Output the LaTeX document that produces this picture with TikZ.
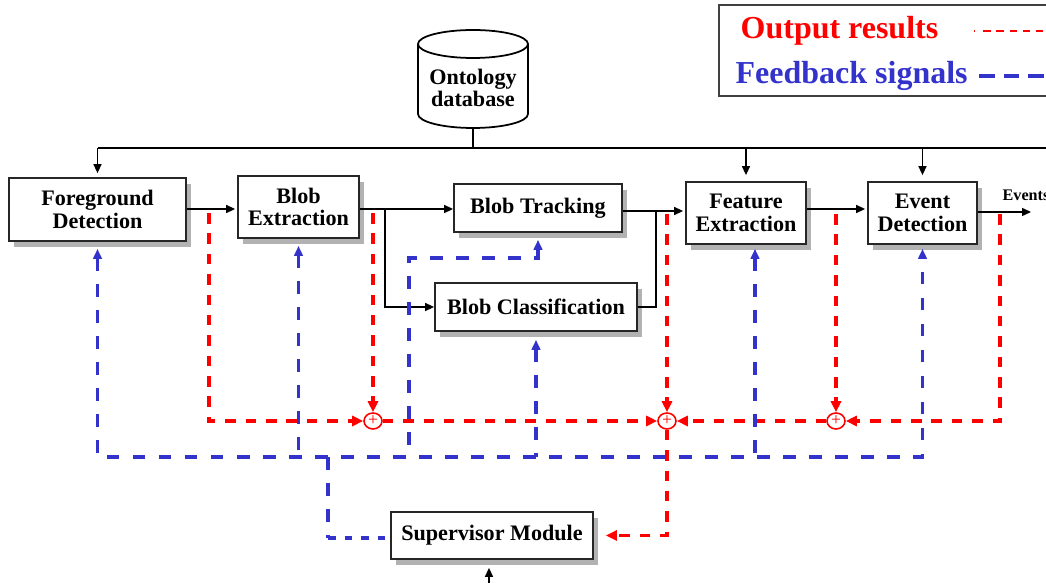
\documentclass[tikz,border=0pt]{standalone}
\usepackage{fontspec}
\setmainfont{Liberation Serif}
\usetikzlibrary{arrows.meta,shapes.geometric,shadows}

\definecolor{resred}{RGB}{255,0,0}
\definecolor{fbblue}{RGB}{51,51,204}
\newcommand{\boxfont}{\fontsize{6.3}{6.5}\selectfont\bfseries}
\newcommand{\legfont}{\fontsize{9.1}{11}\selectfont\bfseries}

\tikzset{
	block/.style={draw=black!85, line width=0.5pt, fill=white, inner sep=0pt,
		align=center, font=\boxfont,
		drop shadow={shadow xshift=0.5mm, shadow yshift=-0.6mm, fill=black!30, opacity=1}},
	sumnode/.style={ellipse, draw=resred, line width=0.45pt, fill=white, inner sep=0pt,
		minimum width=1.8mm, minimum height=1.6mm,
		label={[text=resred, font=\fontsize{5}{5}\selectfont, inner sep=0pt]center:+}},
	flow/.style={line width=0.4pt, -{Triangle[length=0.9mm,width=0.8mm]}},
	resultline/.style={resred, line width=1pt, dash pattern=on 3pt off 2.8pt},
	redtip/.style={-{Triangle[length=1.1mm,width=1mm]}},
	feedbackline/.style={fbblue, line width=1pt, dash pattern=on 3.6pt off 3.8pt},
	fbstart/.style={{Triangle[length=1mm,width=0.85mm]}-},
	fbboth/.style={{Triangle[length=1mm,width=0.85mm]}-{Triangle[length=1mm,width=0.85mm]}}
}

\begin{document}
\begin{tikzpicture}[x=0.1mm, y=-0.1mm]
	\useasboundingbox (0,0) rectangle (1046,583);

	% Legende
	\draw[draw=black!75, line width=0.5pt] (719,5) rectangle (1060,96);
	\node[anchor=west, text=resred, font=\legfont, inner sep=0pt] (legres) at (740,31) {Output results};
	\node[anchor=west, text=fbblue, font=\legfont, inner sep=0pt] (legfb) at (735,76) {Feedback signals};
	\coordinate (legresA) at (974,31);
	\coordinate (legresB) at (1046,31);
	\coordinate (legfbA) at (979,76);
	\coordinate (legfbB) at (1046,76);
	\draw[resred, line width=0.8pt, dash pattern=on 0.4pt off 2.3pt on 2pt off 1.7pt on 2pt off 1.7pt
		on 2pt off 1.7pt on 2pt off 1.7pt on 2pt off 1.7pt on 2pt off 1.7pt on 2pt off 1.7pt] (legresA) -- (legresB);
	\draw[fbblue, line width=1pt, dash pattern=on 4.5pt off 2.5pt] (legfbA) -- (legfbB);

	% Datenbank
	\draw[line width=0.5pt, fill=white] (418,44) -- (418,114)
		arc[start angle=180, end angle=360, x radius=5.5mm, y radius=1.4mm] -- (528,44);
	\draw[line width=0.5pt] (473,44) ellipse [x radius=5.5mm, y radius=1.4mm];
	\node[font=\boxfont, align=center, inner sep=0pt] (ontology) at (473,88) {Ontology\\database};
	\coordinate (ontobot) at (473,128);

	% Kaesten
	\node[block, minimum width=17.7mm, minimum height=6.3mm] (fgdet) at (97.5,209.5) {Foreground\\Detection};
	\node[block, minimum width=12.1mm, minimum height=6.2mm] (blobext) at (298.5,207) {Blob\\Extraction};
	\node[block, minimum width=16.8mm, minimum height=4.8mm] (blobtrack) at (538,208) {Blob Tracking};
	\node[block, minimum width=20.2mm, minimum height=4.8mm] (blobclass) at (536,307) {Blob Classification};
	\node[block, minimum width=12.0mm, minimum height=6.2mm] (featext) at (746,213) {Feature\\Extraction};
	\node[block, minimum width=10.9mm, minimum height=6.2mm] (eventdet) at (922.5,213) {Event\\Detection};
	\node[block, minimum width=20.2mm, minimum height=4.7mm] (supervisor) at (492,535.5) {Supervisor Module};

	% Summenpunkte
	\node[sumnode] (sumA) at (373,421) {};
	\node[sumnode] (sumB) at (667,421) {};
	\node[sumnode] (sumC) at (836,421) {};

	% Datenfluss
	\coordinate (busL) at (97.5,148);
	\coordinate (busR) at (1046,148);
	\draw[line width=0.4pt] (ontobot) -- (ontobot |- busL);
	\draw[line width=0.4pt] (busL) -- (busR);
	\draw[flow, shorten >=0.4mm] (busL) -- (fgdet.north);
	\draw[flow, shorten >=0.6mm] (featext.north |- busL) -- (featext.north);
	\draw[flow, shorten >=0.6mm] (eventdet.north |- busL) -- (eventdet.north);

	\coordinate (lineA) at (0,209);
	\coordinate (lineB) at (0,211);
	\draw[flow, shorten >=0.2mm] (fgdet.east |- lineA) -- (blobext.west |- lineA);
	\draw[flow] (blobext.east |- lineA) -- (blobtrack.west |- lineA);
	\coordinate (splitB) at (385,209);
	\draw[flow] (splitB) |- (blobclass.west);
	\coordinate (joinT) at (656,211);
	\draw[flow, shorten >=0.2mm] (blobtrack.east |- lineB) -- (featext.west |- lineB);
	\draw[line width=0.4pt] (blobclass.east) -| (joinT);
	\draw[flow, shorten >=0.2mm] (featext.east |- lineA) -- (eventdet.west |- lineA);
	\coordinate (evout) at (1031,212);
	\draw[flow] (eventdet.east |- evout) -- (evout);
	\node[anchor=west, font=\fontsize{4.6}{5}\selectfont\bfseries, inner sep=0pt] (evlabel) at (1002,195) {Events};
	\coordinate (supin) at (489,583);
	\draw[flow, shorten >=0.8mm] (supin) -- (supin |- supervisor.south);

	% Ergebnisse (rot)
	\coordinate (fgres) at (209,213);
	\coordinate (beres) at (373,213);
	\coordinate (trres) at (667,214);
	\coordinate (feres) at (836,214);
	\coordinate (evres) at (1000,214);
	\draw[resultline, redtip] (fgres) |- (sumA.west);
	\draw[resultline, redtip] (beres) -- (sumA);
	\draw[resultline, redtip] (sumA) -- (sumB);
	\draw[resultline, redtip] (trres) -- (sumB);
	\draw[resultline, redtip] (feres) -- (sumC);
	\draw[resultline, redtip] (evres) |- (sumC.east);
	\draw[resultline, redtip] (sumC) -- (sumB);
	\draw[resultline, redtip, shorten >=1.2mm] (sumB) |- (supervisor.east);

	% Rueckkopplung (blau)
	\coordinate (busY) at (0,457);
	\draw[feedbackline, fbboth, shorten <=0.7mm, shorten >=0.4mm] (fgdet.south) |- (eventdet.south |- busY) -- (eventdet.south);
	\draw[feedbackline, fbstart, shorten <=0.7mm] (blobext.south) -- (blobext.south |- busY);
	\coordinate (fbtrk) at (409,258);
	\draw[feedbackline, fbstart, shorten <=0.7mm] (blobtrack.south) |- (fbtrk) -- (fbtrk |- busY);
	\draw[feedbackline, fbstart, shorten <=0.8mm] (blobclass.south) -- (blobclass.south |- busY);
	\coordinate (fbfeat) at (755,457);
	\draw[feedbackline, fbstart, shorten <=0.4mm] (featext.south -| fbfeat) -- (fbfeat);
	\coordinate (fbsup) at (328,457);
	\coordinate (fbsupc) at (328,538);
	\draw[feedbackline] (fbsup) -- (fbsupc);
	\draw[feedbackline, dash pattern=on 2.2pt off 2.5pt] (fbsupc) -- (fbsupc -| supervisor.west);
\end{tikzpicture}
\end{document}
